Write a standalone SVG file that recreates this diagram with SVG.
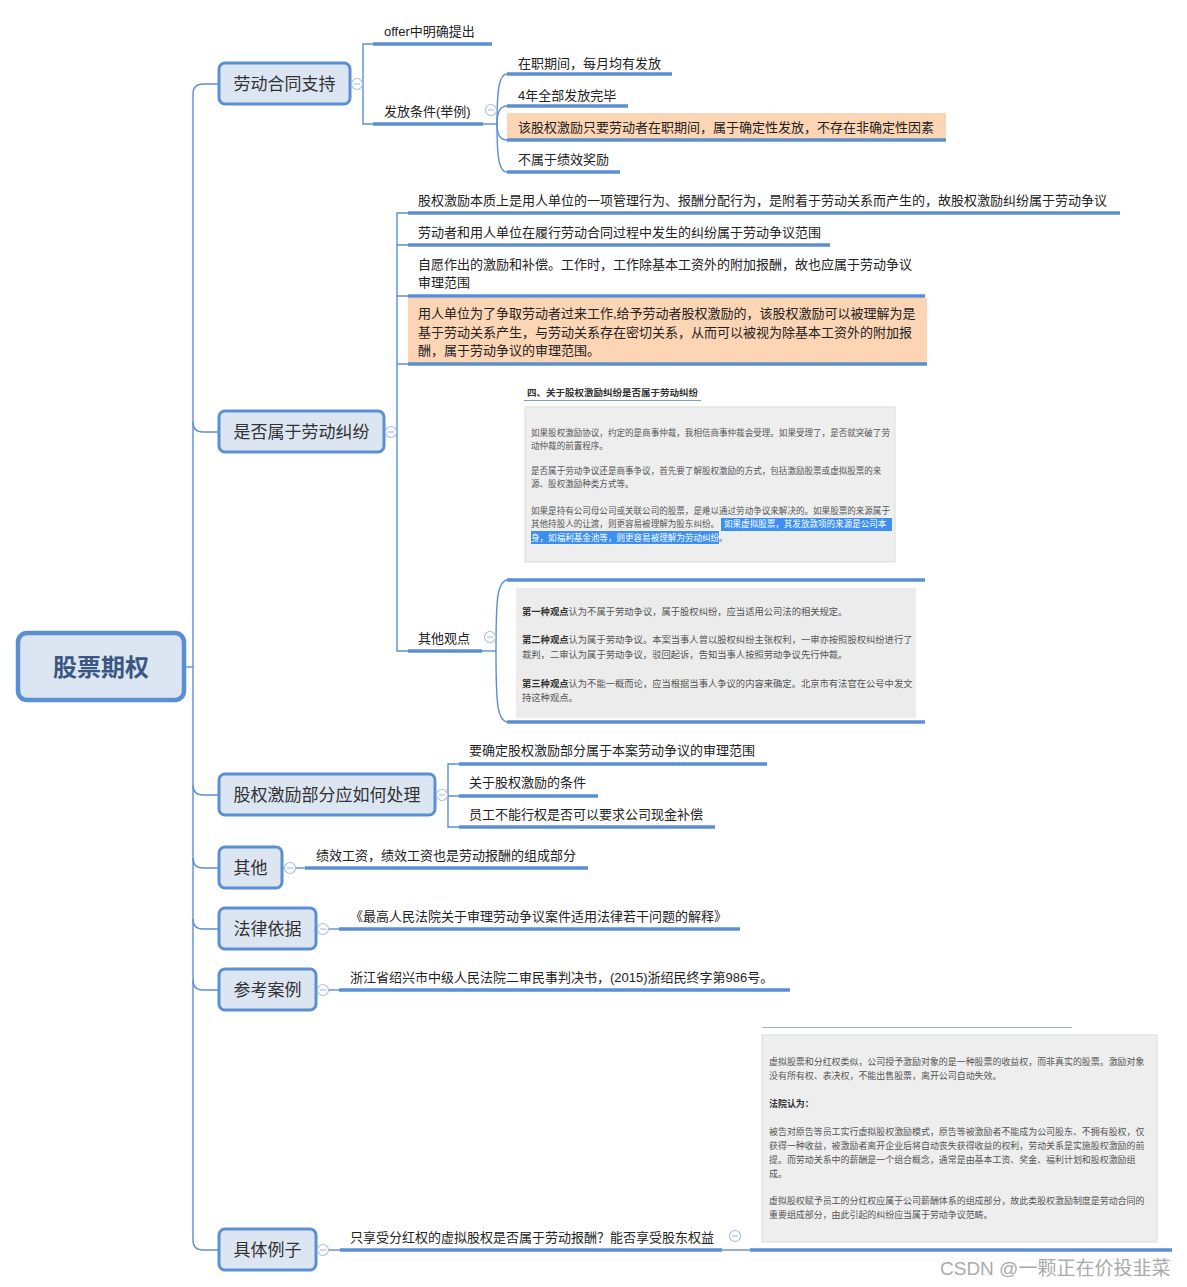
<svg xmlns="http://www.w3.org/2000/svg" width="1187" height="1287" viewBox="0 0 1187 1287">
<style>
text{font-family:"Liberation Sans","Noto Sans CJK SC",sans-serif;}
.l1{fill:#dce6f2;stroke:#5b8fd4;stroke-width:3;}
.t1{font-size:17px;fill:#333;}
.t2{font-size:13px;fill:#222;}
.ul{stroke:#5b8fd4;stroke-width:3.5;fill:none;}
.cn{stroke:#5b8fd4;stroke-width:1.4;fill:none;}
.hl{fill:#fcd5b4;}
.cc{fill:#fff;stroke:#a9bfe2;stroke-width:1.2;}
.cm{stroke:#a9bfe2;stroke-width:1.2;}
.img{fill:#eeeeee;stroke:#dcdcdc;stroke-width:1;}
.it{font-size:9.3px;fill:#555;}
.ib{font-size:9.3px;fill:#333;font-weight:bold;}
.i1{font-size:8.55px;fill:#555;}
.i3{font-size:8.95px;fill:#555;}
.b3{font-size:8.95px;fill:#333;font-weight:bold;}
</style>
<defs>
<g id="col"><circle class="cc" r="5.5"/><line class="cm" x1="-3" y1="0" x2="3" y2="0"/></g>
</defs>

<g id="connectors">
<path class="cn" d="M185,667 H193"/>
<path class="cn" d="M219,84 H203 Q193,84 193,94 V1240 Q193,1250 203,1250 H219"/>
<path class="cn" d="M193,422 Q193,432 203,432 H219"/>
<path class="cn" d="M193,785 Q193,795 203,795 H219"/>
<path class="cn" d="M193,858 Q193,868 203,868 H219"/>
<path class="cn" d="M193,919 Q193,929 203,929 H219"/>
<path class="cn" d="M193,980 Q193,990 203,990 H219"/>
<path class="cn" d="M350,84 H363"/>
<path class="cn" d="M373,44 H363 V124 H373"/>
<path class="cn" d="M483,124 H497"/>
<path class="cn" d="M497,124 C497,90 499,74 507,74"/>
<path class="cn" d="M497,124 C497,112 500,106 507,106"/>
<path class="cn" d="M497,124 C497,134 500,140 507,140"/>
<path class="cn" d="M497,124 C497,158 499,172 507,172"/>
<path class="cn" d="M384,432 H397"/>
<path class="cn" d="M408,213 H397 V651 H408"/>
<path class="cn" d="M397,245 H408 M397,296 H408 M397,364 H408"/>
<path class="cn" d="M482,651 H496"/>
<path class="cn" d="M507,580 C497,582 496,600 496,651 C496,702 497,720 507,722"/>
<path class="cn" d="M435,795 H448"/>
<path class="cn" d="M459,764 H448 V827 H459 M448,796 H459"/>
<path class="cn" d="M282,868 H305"/>
<path class="cn" d="M316,929 H339"/>
<path class="cn" d="M316,990 H339"/>
<path class="cn" d="M316,1250 H340"/>
<path class="cn" d="M722,1250 H750"/>
</g>

<g id="root">
<rect x="18" y="633" width="166" height="67" rx="9" fill="#dce6f2" stroke="#5b8fd4" stroke-width="4.5"/>
<text x="101" y="676" text-anchor="middle" font-size="24" font-weight="bold" fill="#3a5784">股票期权</text>
</g>

<g id="n-laodong">
<rect class="l1" x="219" y="63" width="131" height="41" rx="6"/>
<text class="t1" x="284.5" y="90" text-anchor="middle">劳动合同支持</text>
<use href="#col" x="357" y="84"/>
</g>
<g id="n-offer">
<text class="t2" x="384" y="36">offer中明确提出</text>
<line class="ul" x1="373" y1="44" x2="492" y2="44"/>
</g>
<g id="n-fafang">
<text class="t2" x="384" y="116">发放条件(举例)</text>
<line class="ul" x1="373" y1="124" x2="483" y2="124"/>
<use href="#col" x="491" y="110"/>
</g>
<g id="n-zaizhi">
<text class="t2" x="518" y="68">在职期间，每月均有发放</text>
<line class="ul" x1="507" y1="74" x2="672" y2="74"/>
</g>
<g id="n-4nian">
<text class="t2" x="518" y="100">4年全部发放完毕</text>
<line class="ul" x1="507" y1="106" x2="628" y2="106"/>
</g>
<g id="n-gai">
<rect class="hl" x="507" y="113" width="439" height="27"/>
<text class="t2" x="518" y="132">该股权激励只要劳动者在职期间，属于确定性发放，不存在非确定性因素</text>
<line class="ul" x1="507" y1="140" x2="946" y2="140"/>
</g>
<g id="n-bushu">
<text class="t2" x="518" y="164">不属于绩效奖励</text>
<line class="ul" x1="507" y1="172" x2="620" y2="172"/>
</g>

<g id="n-shifou">
<rect class="l1" x="219" y="411" width="165" height="41" rx="6"/>
<text class="t1" x="301.5" y="438" text-anchor="middle">是否属于劳动纠纷</text>
<use href="#col" x="391" y="432"/>
</g>
<g id="n-s1">
<text class="t2" x="418" y="205">股权激励本质上是用人单位的一项管理行为、报酬分配行为，是附着于劳动关系而产生的，故股权激励纠纷属于劳动争议</text>
<line class="ul" x1="408" y1="213" x2="1120" y2="213"/>
</g>
<g id="n-s2">
<text class="t2" x="418" y="237">劳动者和用人单位在履行劳动合同过程中发生的纠纷属于劳动争议范围</text>
<line class="ul" x1="408" y1="245" x2="830" y2="245"/>
</g>
<g id="n-s3">
<text class="t2" x="418" y="269">自愿作出的激励和补偿。工作时，工作除基本工资外的附加报酬，故也应属于劳动争议</text>
<text class="t2" x="418" y="287">审理范围</text>
<line class="ul" x1="408" y1="296" x2="925" y2="296"/>
</g>
<g id="n-s4">
<rect class="hl" x="408" y="298" width="519" height="66"/>
<text class="t2" x="418" y="318">用人单位为了争取劳动者过来工作,给予劳动者股权激励的，该股权激励可以被理解为是</text>
<text class="t2" x="418" y="337">基于劳动关系产生，与劳动关系存在密切关系，从而可以被视为除基本工资外的附加报</text>
<text class="t2" x="418" y="355">酬，属于劳动争议的审理范围。</text>
<line class="ul" x1="408" y1="364" x2="927" y2="364"/>
</g>
<g id="n-img1">
<text x="527" y="396" font-size="9.5" font-weight="bold" fill="#333">四、关于股权激励纠纷是否属于劳动纠纷</text>
<line x1="524" y1="400.5" x2="701" y2="400.5" stroke="#7b9cc8" stroke-width="1"/>
<rect class="img" x="525" y="407" width="370" height="155"/>
<rect x="721" y="518" width="171" height="13" fill="#3d8ff0"/>
<rect x="531" y="531" width="188" height="13" fill="#3d8ff0"/>
<text class="i1" x="531" y="436">如果股权激励协议，约定的是商事仲裁，我相信商事仲裁会受理。如果受理了，是否就突破了劳</text>
<text class="i1" x="531" y="449">动仲裁的前置程序。</text>
<text class="i1" x="531" y="474">是否属于劳动争议还是商事争议，首先要了解股权激励的方式，包括激励股票或虚拟股票的来</text>
<text class="i1" x="531" y="487">源、股权激励种类方式等。</text>
<text class="i1" x="531" y="514">如果是持有公司母公司或关联公司的股票，是难以通过劳动争议来解决的。如果股票的来源属于</text>
<text class="i1" x="531" y="527">其他持股人的让渡，则更容易被理解为股东纠纷。</text>
<text class="i1" x="724" y="527" fill="#fff" style="fill:#fff">如果虚拟股票，其发放款项的来源是公司本</text>
<text class="i1" x="531" y="541" style="fill:#fff">身，如福利基金池等，则更容易被理解为劳动纠纷</text>
<text class="i1" x="719" y="541">。</text>
</g>
<g id="n-qita-gd">
<text class="t2" x="418" y="643">其他观点</text>
<line class="ul" x1="408" y1="651" x2="482" y2="651"/>
<use href="#col" x="490" y="637"/>
</g>
<g id="n-img2">
<line class="ul" x1="507" y1="580" x2="925" y2="580"/>
<rect x="516" y="588" width="400" height="130" fill="#ececec"/>
<text class="it" x="522" y="615"><tspan class="ib">第一种观点</tspan>认为不属于劳动争议，属于股权纠纷，应当适用公司法的相关规定。</text>
<text class="it" x="522" y="643"><tspan class="ib">第二种观点</tspan>认为属于劳动争议。本案当事人曾以股权纠纷主张权利，一审亦按照股权纠纷进行了</text>
<text class="it" x="522" y="658">裁判，二审认为属于劳动争议，驳回起诉，告知当事人按照劳动争议先行仲裁。</text>
<text class="it" x="522" y="687"><tspan class="ib">第三种观点</tspan>认为不能一概而论，应当根据当事人争议的内容来确定。北京市有法官在公号中发文</text>
<text class="it" x="522" y="701">持这种观点。</text>
<line class="ul" x1="507" y1="722" x2="925" y2="722"/>
</g>

<g id="n-chuli">
<rect class="l1" x="219" y="774" width="216" height="41" rx="6"/>
<text class="t1" x="327" y="801" text-anchor="middle">股权激励部分应如何处理</text>
<use href="#col" x="442" y="795"/>
</g>
<g id="n-c1">
<text class="t2" x="469" y="755">要确定股权激励部分属于本案劳动争议的审理范围</text>
<line class="ul" x1="459" y1="764" x2="767" y2="764"/>
</g>
<g id="n-c2">
<text class="t2" x="469" y="787">关于股权激励的条件</text>
<line class="ul" x1="459" y1="796" x2="598" y2="796"/>
</g>
<g id="n-c3">
<text class="t2" x="469" y="819">员工不能行权是否可以要求公司现金补偿</text>
<line class="ul" x1="459" y1="827" x2="715" y2="827"/>
</g>

<g id="n-qita">
<rect class="l1" x="219" y="847" width="63" height="41" rx="6"/>
<text class="t1" x="250.5" y="874" text-anchor="middle">其他</text>
<use href="#col" x="290" y="868"/>
</g>
<g id="n-jixiao">
<text class="t2" x="316" y="860">绩效工资，绩效工资也是劳动报酬的组成部分</text>
<line class="ul" x1="305" y1="868" x2="588" y2="868"/>
</g>

<g id="n-falv">
<rect class="l1" x="219" y="908" width="97" height="41" rx="6"/>
<text class="t1" x="267.5" y="935" text-anchor="middle">法律依据</text>
<use href="#col" x="323" y="929"/>
</g>
<g id="n-jieshi">
<text class="t2" x="350" y="921">《最高人民法院关于审理劳动争议案件适用法律若干问题的解释》</text>
<line class="ul" x1="339" y1="929" x2="740" y2="929"/>
</g>

<g id="n-cankao">
<rect class="l1" x="219" y="969" width="97" height="41" rx="6"/>
<text class="t1" x="267.5" y="996" text-anchor="middle">参考案例</text>
<use href="#col" x="323" y="990"/>
</g>
<g id="n-zhejiang">
<text class="t2" x="350" y="982">浙江省绍兴市中级人民法院二审民事判决书，(2015)浙绍民终字第986号。</text>
<line class="ul" x1="339" y1="990" x2="790" y2="990"/>
</g>

<g id="n-juti">
<rect class="l1" x="219" y="1229" width="97" height="41" rx="6"/>
<text class="t1" x="267.5" y="1256" text-anchor="middle">具体例子</text>
<use href="#col" x="323" y="1250"/>
</g>
<g id="n-xuni">
<text class="t2" x="350" y="1242">只享受分红权的虚拟股权是否属于劳动报酬？能否享受股东权益</text>
<line class="ul" x1="340" y1="1250" x2="722" y2="1250"/>
<use href="#col" x="735" y="1236"/>
</g>
<g id="n-img3">
<line x1="762" y1="1027.5" x2="1072" y2="1027.5" stroke="#9fb3d0" stroke-width="1.2"/>
<rect class="img" x="762" y="1035" width="395" height="207"/>
<text class="i3" x="769" y="1065">虚拟股票和分红权类似，公司授予激励对象的是一种股票的收益权，而非真实的股票。激励对象</text>
<text class="i3" x="769" y="1079">没有所有权、表决权，不能出售股票，离开公司自动失效。</text>
<text class="b3" x="769" y="1107">法院认为：</text>
<text class="i3" x="769" y="1135">被告对原告等员工实行虚拟股权激励模式，原告等被激励者不能成为公司股东、不拥有股权，仅</text>
<text class="i3" x="769" y="1149">获得一种收益，被激励者离开企业后将自动丧失获得收益的权利，劳动关系是实施股权激励的前</text>
<text class="i3" x="769" y="1163">提。而劳动关系中的薪酬是一个组合概念，通常是由基本工资、奖金、福利计划和股权激励组</text>
<text class="i3" x="769" y="1177">成。</text>
<text class="i3" x="769" y="1204">虚拟股权赋予员工的分红权应属于公司薪酬体系的组成部分，故此类股权激励制度是劳动合同的</text>
<text class="i3" x="769" y="1218">重要组成部分，由此引起的纠纷应当属于劳动争议范畴。</text>
<line class="ul" x1="750" y1="1250" x2="1172" y2="1250"/>
</g>

<text x="940" y="1275" font-size="19" fill="#aaaaaa">CSDN @一颗正在价投韭菜</text>
</svg>
